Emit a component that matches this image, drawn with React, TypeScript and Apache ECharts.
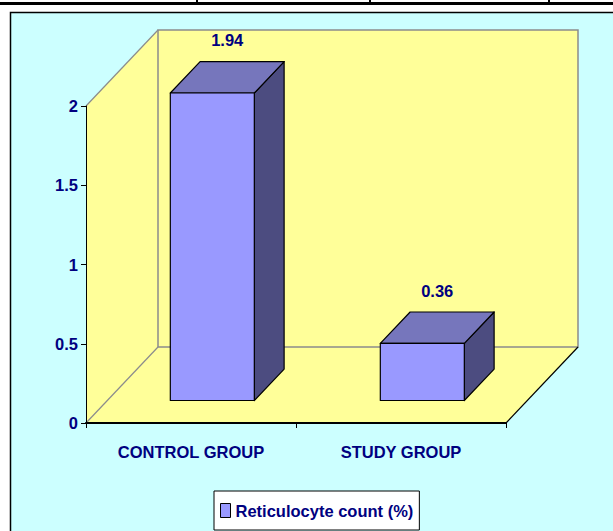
import React, { useEffect, useRef } from "react";
import * as echarts from "echarts";

const categories = ["CONTROL GROUP", "STUDY GROUP"];
const seriesName = "Reticulocyte count (%)";
const reticulocyte = [1.94, 0.36];
const yTicks = { min: 0, max: 2, interval: 0.5 };

const FONT = "'Liberation Sans Narrow', 'Arial Narrow', 'Liberation Sans', Arial, sans-serif";
const FS = 16.5;
const NAVY = "#000080";
const YELLOW = "#FFFF99";
const WALL_EDGE = "#8C8C8C";
const DX = 72;
const DY = -76;
const F1 = 0.296;
const F2 = 0.71;
const BAR_FRAC = 0.4;

export default function App() {
  const ref = useRef<HTMLDivElement>(null);
  useEffect(() => {
    if (!ref.current) return;
    const chart = echarts.init(ref.current, undefined, { renderer: "svg" });
    const option: any = {
      animation: false,
      backgroundColor: "#ffffff",
      textStyle: { fontFamily: FONT },
      graphic: [
        {
          type: "rect",
          z: -10,
          silent: true,
          shape: { x: 10.5, y: 12.5, width: 700, height: 600 },
          style: { fill: "#CCFFFF", stroke: "#000", lineWidth: 1.5 },
        },
        {
          type: "rect",
          z: -9,
          silent: true,
          shape: { x: 0, y: 2, width: 613, height: 3 },
          style: { fill: "#000" },
        },
        ...[197, 370, 549].map((x) => ({
          type: "rect",
          z: -9,
          silent: true,
          shape: { x: x - 1, y: 0, width: 2, height: 5 },
          style: { fill: "#000" },
        })),
      ],
      grid: { left: 86, top: 106, width: 420, height: 317, containLabel: false },
      legend: {
        left: 214,
        top: 491,
        padding: [11, 6, 11, 6],
        itemWidth: 10,
        itemHeight: 14,
        backgroundColor: "#ffffff",
        borderColor: "#000",
        borderWidth: 1,
        borderRadius: 0,
        textStyle: { fontFamily: FONT, fontWeight: "bold", fontSize: FS, color: NAVY },
        data: [
          {
            name: seriesName,
            icon: "rect",
            itemStyle: { color: "#9999FF", borderColor: "#000", borderWidth: 1 },
          },
        ],
      },
      xAxis: {
        type: "category",
        data: categories,
        z: 5,
        axisLine: { show: true, lineStyle: { color: "#000", width: 2 } },
        axisTick: { show: true, length: 5, lineStyle: { color: "#000", width: 1 } },
        axisLabel: {
          interval: 0,
          margin: 20,
          fontFamily: FONT,
          fontWeight: "bold",
          fontSize: FS,
          color: NAVY,
        },
        splitLine: { show: false },
      },
      yAxis: {
        type: "value",
        min: yTicks.min,
        max: yTicks.max,
        interval: yTicks.interval,
        z: 5,
        axisLine: { show: true, lineStyle: { color: "#000", width: 1 } },
        axisTick: { show: true, length: 5, lineStyle: { color: "#000", width: 1 } },
        axisLabel: {
          margin: 8,
          fontFamily: FONT,
          fontWeight: "bold",
          fontSize: FS,
          color: NAVY,
        },
        splitLine: { show: false },
      },
      series: [
        {
          type: "custom",
          name: "walls",
          z: 1,
          silent: true,
          coordinateSystem: "cartesian2d",
          data: [[0, 0]],
          encode: { x: 0, y: 1 },
          renderItem: (params: any) => {
            const cs = params.coordSys;
            const L = cs.x, T = cs.y, R = cs.x + cs.width, B = cs.y + cs.height;
            return {
              type: "group",
              children: [
                {
                  type: "polygon",
                  shape: { points: [[L, B], [L + DX, B + DY], [R + DX, B + DY], [R, B]] },
                  style: { fill: YELLOW, stroke: null },
                },
                {
                  type: "polygon",
                  shape: { points: [[L, T], [L + DX, T + DY], [L + DX, B + DY], [L, B]] },
                  style: { fill: YELLOW, stroke: null },
                },
                {
                  type: "rect",
                  shape: { x: L + DX, y: T + DY, width: R - L, height: B - T },
                  style: { fill: YELLOW, stroke: WALL_EDGE, lineWidth: 1.5 },
                },
                {
                  type: "line",
                  shape: { x1: L, y1: T, x2: L + DX, y2: T + DY },
                  style: { stroke: WALL_EDGE, lineWidth: 1.2 },
                },
                {
                  type: "line",
                  shape: { x1: L, y1: B, x2: L + DX, y2: B + DY },
                  style: { stroke: WALL_EDGE, lineWidth: 1.2 },
                },
                {
                  type: "line",
                  shape: { x1: R, y1: B, x2: R + DX, y2: B + DY },
                  style: { stroke: "#000", lineWidth: 1.2 },
                },
              ],
            };
          },
        },
        {
          type: "custom",
          name: seriesName,
          z: 6,
          coordinateSystem: "cartesian2d",
          itemStyle: { color: "#9999FF", borderColor: "#000", borderWidth: 1 },
          data: reticulocyte.map((v, i) => [i, v]),
          encode: { x: 0, y: 1 },
          renderItem: (params: any, api: any) => {
            const idx = api.value(0);
            const v = api.value(1);
            const base = api.coord([idx, 0]);
            const top = api.coord([idx, v]);
            const band = api.size([1, 0])[0];
            const hw = (band * BAR_FRAC) / 2;
            const fx = DX * F1, fy = DY * F1;
            const bx = DX * (F2 - F1), by = DY * (F2 - F1);
            const x0 = base[0] - hw + fx;
            const x1 = base[0] + hw + fx;
            const yb = base[1] + fy;
            const yt = top[1] + fy;
            const edge = { stroke: "#000", lineWidth: 1.2, lineJoin: "round" };
            return {
              type: "group",
              children: [
                {
                  type: "polygon",
                  shape: { points: [[x1, yt], [x1 + bx, yt + by], [x1 + bx, yb + by], [x1, yb]] },
                  style: { fill: "#4C4C80", ...edge },
                },
                {
                  type: "polygon",
                  shape: { points: [[x0, yt], [x1, yt], [x1 + bx, yt + by], [x0 + bx, yt + by]] },
                  style: { fill: "#7676BC", ...edge },
                },
                {
                  type: "rect",
                  shape: { x: x0, y: yt, width: x1 - x0, height: yb - yt },
                  style: { fill: "#9999FF", ...edge },
                },
                {
                  type: "text",
                  x: (x0 + x1) / 2 + bx / 2,
                  y: yt + by / 2 - 37,
                  style: {
                    text: String(v),
                    fontFamily: FONT,
                    fontWeight: "bold",
                    fontSize: FS,
                    fill: NAVY,
                    align: "center",
                    verticalAlign: "middle",
                  },
                },
              ],
            };
          },
        },
      ],
    };
    chart.setOption(option);
    return () => chart.dispose();
  }, []);
  return (
    <div
      ref={ref}
      style={{ position: "fixed", left: 0, top: 0, width: 613, height: 531 }}
    />
  );
}
